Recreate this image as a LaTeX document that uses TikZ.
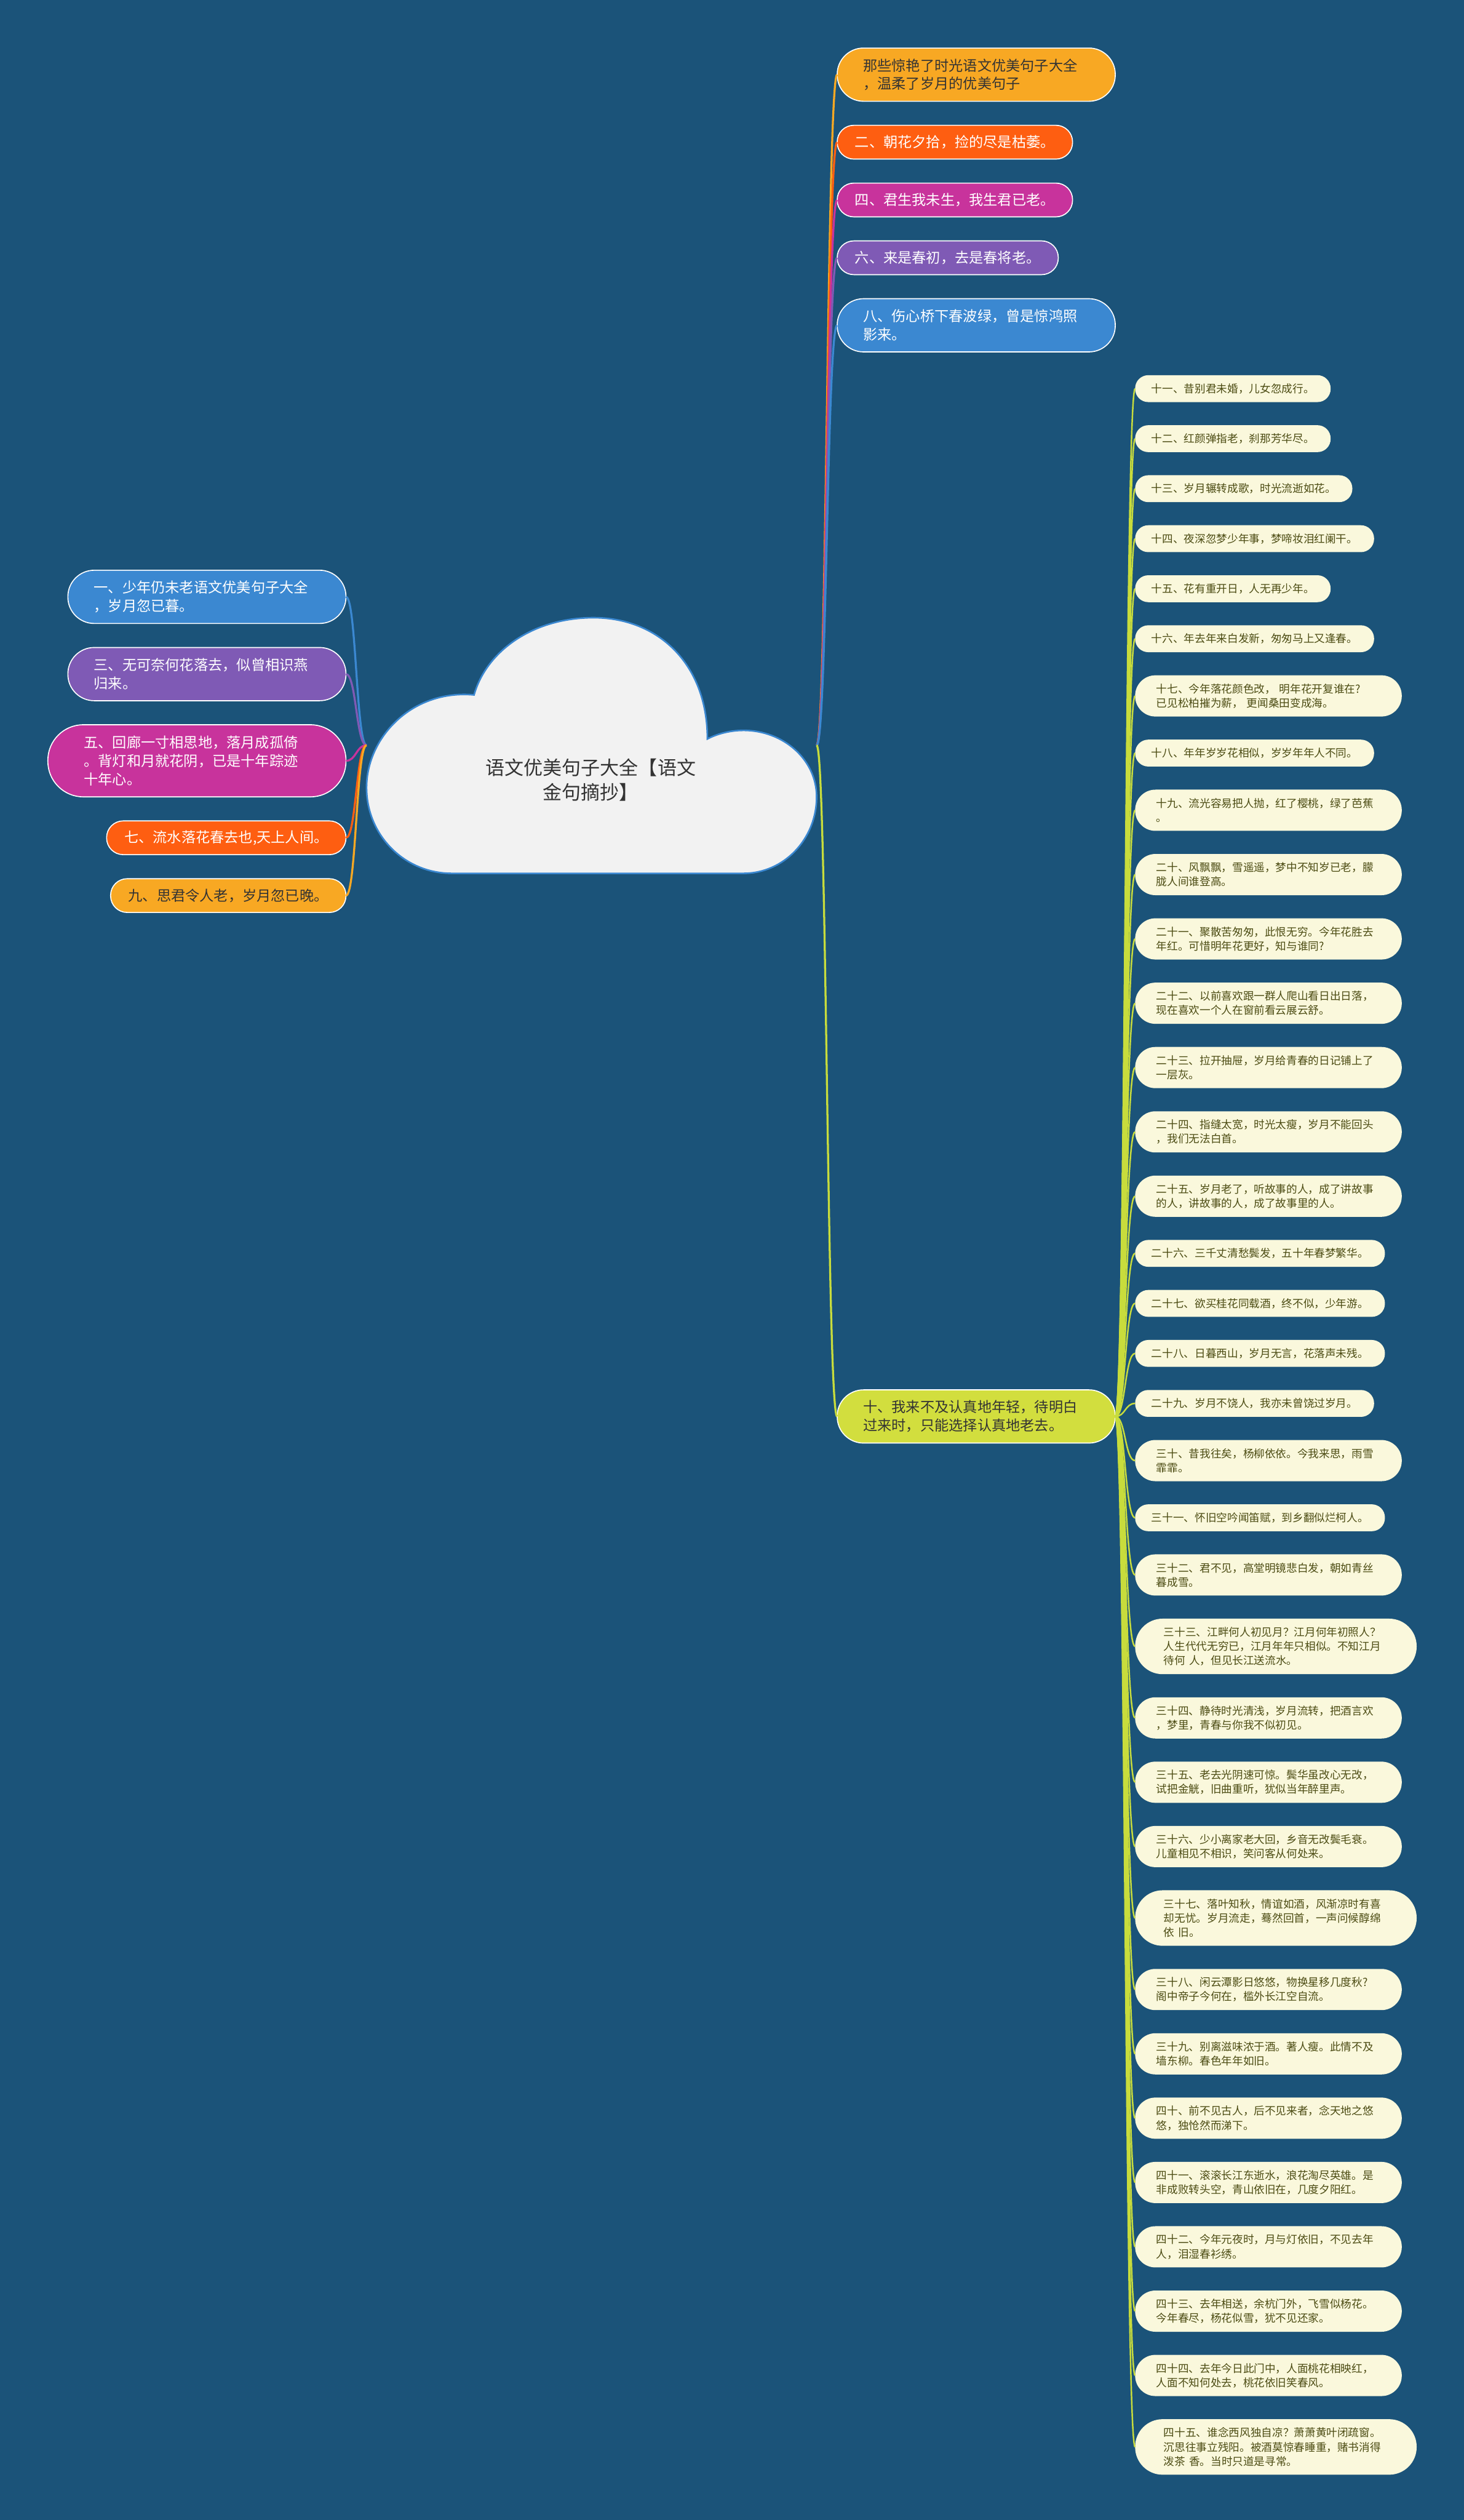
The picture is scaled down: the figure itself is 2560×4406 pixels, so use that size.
\documentclass[tikz,border=0pt]{standalone}
\usepackage{fontspec}
\setmainfont{Noto Sans CJK SC}
\usetikzlibrary{positioning}
\definecolor{MapBg}{HTML}{1B5379}
\definecolor{MapOrange}{HTML}{F8A823}
\definecolor{MapRed}{HTML}{FE5E11}
\definecolor{MapMagenta}{HTML}{C8339C}
\definecolor{MapPurple}{HTML}{7F5AB5}
\definecolor{MapBlue}{HTML}{3B88D1}
\definecolor{MapLime}{HTML}{D2DE3E}
\definecolor{LimeLine}{HTML}{C8DC3C}
\definecolor{LeafCream}{HTML}{FAF8DC}
\definecolor{LeafText}{HTML}{4C4C13}
\definecolor{CloudGray}{HTML}{F2F2F2}
\definecolor{CloudEdge}{HTML}{3A87D0}
\definecolor{DarkText}{HTML}{333333}

\begin{document}
\begin{tikzpicture}[x=0.01cm, y=-0.01cm, node distance=0.404cm,
  hub/.style={draw=white, line width=0.5pt, outer sep=0pt, inner xsep=0.31cm, inner ysep=0.05cm, align=left, font=\fontsize{7.1}{9.1}\selectfont, minimum height=0.59cm, rounded corners=0.29cm},
  hubtwo/.style={hub, text width=3.95cm, inner xsep=0.455cm, minimum height=0.93cm, rounded corners=0.46cm},
  hubthree/.style={hubtwo, inner xsep=0.63cm, minimum height=1.26cm, rounded corners=0.62cm},
  leaf/.style={fill=LeafCream, text=LeafText, outer sep=0pt, inner xsep=0.285cm, inner ysep=0.05cm, align=left, font=\fontsize{5.4}{7.1}\selectfont, minimum height=0.47cm, rounded corners=0.23cm},
  leaftwo/.style={leaf, text width=3.92cm, inner xsep=0.37cm, minimum height=0.72cm, rounded corners=0.355cm},
  leafthree/.style={leaftwo, inner xsep=0.5cm, minimum height=0.97cm, rounded corners=0.48cm},
  link/.style={line width=1pt},
  leaflink/.style={draw=LimeLine, line width=0.75pt}]

  \fill[MapBg] (0,0) rectangle (2560,4406);
  \useasboundingbox (0,0) rectangle (2560,4406);

  % centre cloud
  \filldraw[fill=CloudGray, draw=CloudEdge, line width=0.8pt]
    (790,1527) -- (1300,1527)
    .. controls (1371,1527) and (1428,1467) .. (1428,1393)
    .. controls (1428,1329) and (1371,1277) .. (1300,1277)
    .. controls (1275,1277) and (1252,1284) .. (1237,1292)
    .. controls (1237,1160) and (1150,1080) .. (1038,1080)
    .. controls (930,1080) and (850,1140) .. (829,1215)
    .. controls (720,1205) and (641,1290) .. (641,1377)
    .. controls (641,1460) and (707,1527) .. (790,1527) -- cycle;
  \node[font=\fontsize{9.5}{12.2}\selectfont, text=DarkText, align=center] (title) at (1033,1364) {语文优美句子大全【语文\\金句摘抄】};
  \coordinate (rootL) at (641,1303);
  \coordinate (rootR) at (1428,1303);

  % right branches
  \node[hubtwo, fill=MapOrange, text=DarkText, anchor=north west] (b0) at (1464,84) {那些惊艳了时光语文优美句子大全\\，温柔了岁月的优美句子};
  \node[hub, fill=MapRed, text=white, below=0.42cm of b0.south west, anchor=north west] (b2) {二、朝花夕拾，捡的尽是枯萎。};
  \node[hub, fill=MapMagenta, text=white, below=0.42cm of b2.south west, anchor=north west] (b4) {四、君生我未生，我生君已老。};
  \node[hub, fill=MapPurple, text=white, below=0.42cm of b4.south west, anchor=north west] (b6) {六、来是春初，去是春将老。};
  \node[hubtwo, fill=MapBlue, text=white, below=0.42cm of b6.south west, anchor=north west] (b8) {八、伤心桥下春波绿，曾是惊鸿照\\影来。};
  \node[hubtwo, fill=MapLime, text=DarkText, anchor=north west] (b10) at (1464,2430) {十、我来不及认真地年轻，待明白\\过来时，只能选择认真地老去。};

  % left branches
  \node[hubtwo, fill=MapBlue, text=white, anchor=north east] (b1) at (605,997) {一、少年仍未老语文优美句子大全\\，岁月忽已暮。};
  \node[hubtwo, fill=MapPurple, text=white, below=0.42cm of b1.south east, anchor=north east] (b3) {三、无可奈何花落去，似曾相识燕\\归来。};
  \node[hubthree, fill=MapMagenta, text=white, below=0.42cm of b3.south east, anchor=north east] (b5) {五、回廊一寸相思地，落月成孤倚\\。背灯和月就花阴，已是十年踪迹\\十年心。};
  \node[hub, fill=MapRed, text=white, below=0.42cm of b5.south east, anchor=north east] (b7) {七、流水落花春去也,天上人间。};
  \node[hub, fill=MapOrange, text=DarkText, below=0.42cm of b7.south east, anchor=north east] (b9) {九、思君令人老，岁月忽已晚。};

  % leaves of branch ten
  \node[leaf, anchor=north west] (l11) at (1985,656) {十一、昔别君未婚，儿女忽成行。};
  \node[leaf, below=of l11.south west, anchor=north west] (l12) {十二、红颜弹指老，刹那芳华尽。};
  \node[leaf, below=of l12.south west, anchor=north west] (l13) {十三、岁月辗转成歌，时光流逝如花。};
  \node[leaf, below=of l13.south west, anchor=north west] (l14) {十四、夜深忽梦少年事，梦啼妆泪红阑干。};
  \node[leaf, below=of l14.south west, anchor=north west] (l15) {十五、花有重开日，人无再少年。};
  \node[leaf, below=of l15.south west, anchor=north west] (l16) {十六、年去年来白发新，匆匆马上又逢春。};
  \node[leaftwo, below=of l16.south west, anchor=north west] (l17) {十七、今年落花颜色改， 明年花开复谁在?\\已见松柏摧为薪， 更闻桑田变成海。};
  \node[leaf, below=of l17.south west, anchor=north west] (l18) {十八、年年岁岁花相似，岁岁年年人不同。};
  \node[leaftwo, below=of l18.south west, anchor=north west] (l19) {十九、流光容易把人抛，红了樱桃，绿了芭蕉\\。};
  \node[leaftwo, below=of l19.south west, anchor=north west] (l20) {二十、风飘飘，雪遥遥，梦中不知岁已老，朦\\胧人间谁登高。};
  \node[leaftwo, below=of l20.south west, anchor=north west] (l21) {二十一、聚散苦匆匆，此恨无穷。今年花胜去\\年红。可惜明年花更好，知与谁同?};
  \node[leaftwo, below=of l21.south west, anchor=north west] (l22) {二十二、以前喜欢跟一群人爬山看日出日落，\\现在喜欢一个人在窗前看云展云舒。};
  \node[leaftwo, below=of l22.south west, anchor=north west] (l23) {二十三、拉开抽屉，岁月给青春的日记铺上了\\一层灰。};
  \node[leaftwo, below=of l23.south west, anchor=north west] (l24) {二十四、指缝太宽，时光太瘦，岁月不能回头\\，我们无法白首。};
  \node[leaftwo, below=of l24.south west, anchor=north west] (l25) {二十五、岁月老了，听故事的人，成了讲故事\\的人，讲故事的人，成了故事里的人。};
  \node[leaf, below=of l25.south west, anchor=north west] (l26) {二十六、三千丈清愁鬓发，五十年春梦繁华。};
  \node[leaf, below=of l26.south west, anchor=north west] (l27) {二十七、欲买桂花同载酒，终不似，少年游。};
  \node[leaf, below=of l27.south west, anchor=north west] (l28) {二十八、日暮西山，岁月无言，花落声未残。};
  \node[leaf, below=of l28.south west, anchor=north west] (l29) {二十九、岁月不饶人，我亦未曾饶过岁月。};
  \node[leaftwo, below=of l29.south west, anchor=north west] (l30) {三十、昔我往矣，杨柳依依。今我来思，雨雪\\霏霏。};
  \node[leaf, below=of l30.south west, anchor=north west] (l31) {三十一、怀旧空吟闻笛赋，到乡翻似烂柯人。};
  \node[leaftwo, below=of l31.south west, anchor=north west] (l32) {三十二、君不见，高堂明镜悲白发，朝如青丝\\暮成雪。};
  \node[leafthree, below=of l32.south west, anchor=north west] (l33) {三十三、江畔何人初见月？江月何年初照人？\\人生代代无穷已，江月年年只相似。不知江月\\待何 人，但见长江送流水。};
  \node[leaftwo, below=of l33.south west, anchor=north west] (l34) {三十四、静待时光清浅，岁月流转，把酒言欢\\，梦里，青春与你我不似初见。};
  \node[leaftwo, below=of l34.south west, anchor=north west] (l35) {三十五、老去光阴速可惊。鬓华虽改心无改，\\试把金觥，旧曲重听，犹似当年醉里声。};
  \node[leaftwo, below=of l35.south west, anchor=north west] (l36) {三十六、少小离家老大回，乡音无改鬓毛衰。\\儿童相见不相识，笑问客从何处来。};
  \node[leafthree, below=of l36.south west, anchor=north west] (l37) {三十七、落叶知秋，情谊如酒，风渐凉时有喜\\却无忧。岁月流走，蓦然回首，一声问候醇绵\\依 旧。};
  \node[leaftwo, below=of l37.south west, anchor=north west] (l38) {三十八、闲云潭影日悠悠，物换星移几度秋?\\阁中帝子今何在，槛外长江空自流。};
  \node[leaftwo, below=of l38.south west, anchor=north west] (l39) {三十九、别离滋味浓于酒。著人瘦。此情不及\\墙东柳。春色年年如旧。};
  \node[leaftwo, below=of l39.south west, anchor=north west] (l40) {四十、前不见古人，后不见来者，念天地之悠\\悠，独怆然而涕下。};
  \node[leaftwo, below=of l40.south west, anchor=north west] (l41) {四十一、滚滚长江东逝水，浪花淘尽英雄。是\\非成败转头空，青山依旧在，几度夕阳红。};
  \node[leaftwo, below=of l41.south west, anchor=north west] (l42) {四十二、今年元夜时，月与灯依旧，不见去年\\人，泪湿春衫绣。};
  \node[leaftwo, below=of l42.south west, anchor=north west] (l43) {四十三、去年相送，余杭门外，飞雪似杨花。\\今年春尽，杨花似雪，犹不见还家。};
  \node[leaftwo, below=of l43.south west, anchor=north west] (l44) {四十四、去年今日此门中，人面桃花相映红，\\人面不知何处去，桃花依旧笑春风。};
  \node[leafthree, below=of l44.south west, anchor=north west] (l45) {四十五、谁念西风独自凉？萧萧黄叶闭疏窗。\\沉思往事立残阳。被酒莫惊春睡重，赌书消得\\泼茶 香。当时只道是寻常。};

  % connectors
  \foreach \b/\c in {b0/MapOrange, b2/MapRed, b4/MapMagenta, b6/MapPurple, b8/MapBlue, b10/LimeLine}
    \draw[link, \c] (rootR) .. controls +(18,0) and +(-18,0) .. (\b.west);
  \foreach \b/\c in {b1/MapBlue, b3/MapPurple, b5/MapMagenta, b7/MapRed, b9/MapOrange}
    \draw[link, \c] (rootL) .. controls +(-18,0) and +(18,0) .. (\b.east);
  \foreach \n in {11,...,45}
    \draw[leaflink] (b10.east) .. controls +(18,0) and +(-18,0) .. (l\n.west);
\end{tikzpicture}
\end{document}
